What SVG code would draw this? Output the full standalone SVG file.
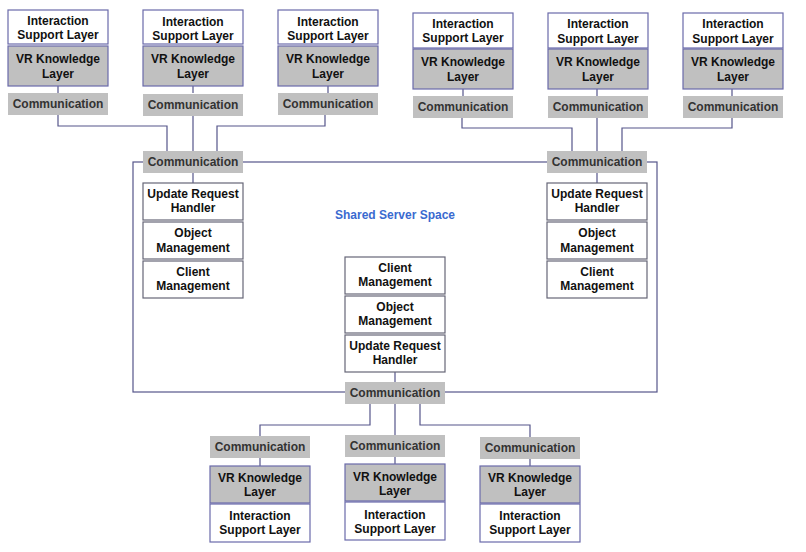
<svg xmlns="http://www.w3.org/2000/svg" width="806" height="552" viewBox="0 0 806 552">
<style>
.t{font-family:"Liberation Sans",Arial,sans-serif;font-weight:bold;font-size:12px;text-anchor:middle;fill:#111}
.c{fill:#333}
.w{fill:#fff;stroke:#6a6aaa;stroke-width:1.2}
.g{fill:#c0c0c0;stroke:#6a6aaa;stroke-width:1.2}
.cm{fill:#c0c0c0}
.s{fill:#fff;stroke:#666677;stroke-width:1.2}
.ln{fill:none;stroke:#55558a;stroke-width:1.2}
.lbl{font-family:"Liberation Sans",Arial,sans-serif;font-weight:bold;font-size:12px;text-anchor:middle;fill:#3a6ad0}
</style>
<rect width="806" height="552" fill="#fff"/>
<g id="shared-server-space">
<rect x="133" y="162" width="524" height="230" fill="none" stroke="#55558a" stroke-width="1.2"/>
<text class="lbl" x="395" y="219">Shared Server Space</text>
</g>
<g id="connectors">
<path class="ln" d="M58,86V93M58,115V126H167V151"/>
<path class="ln" d="M193,86V93M193,115V151"/>
<path class="ln" d="M328,86V93M325,115V126H217V151"/>
<path class="ln" d="M463,89V96M462,118V128H572V151"/>
<path class="ln" d="M597,89V96M597,118V151"/>
<path class="ln" d="M732,89V96M732,118V128H622V151"/>
<path class="ln" d="M193,173V183M597,173V183M395,372V382"/>
<path class="ln" d="M370,404V425H260V436M395,404V435M420,404V425H530V437"/>
<path class="ln" d="M260,458V466M395,457V464M530,459V466"/>
</g>
<g id="client1">
<rect class="w" x="8" y="10" width="100" height="34"/>
<text class="t" x="58" y="25">Interaction</text><text class="t" x="58" y="39">Support Layer</text>
<rect class="g" x="8" y="46" width="100" height="40"/>
<text class="t" x="58" y="63">VR Knowledge</text><text class="t" x="58" y="78">Layer</text>
<rect class="cm" x="8" y="93" width="100" height="22"/>
<text class="t c" x="58" y="108">Communication</text>
</g>
<g id="client2">
<rect class="w" x="143" y="10" width="100" height="34"/>
<text class="t" x="193" y="26">Interaction</text><text class="t" x="193" y="40">Support Layer</text>
<rect class="g" x="143" y="46" width="100" height="40"/>
<text class="t" x="193" y="63">VR Knowledge</text><text class="t" x="193" y="78">Layer</text>
<rect class="cm" x="143" y="94" width="100" height="22"/>
<text class="t c" x="193" y="109">Communication</text>
</g>
<g id="client3">
<rect class="w" x="278" y="10" width="100" height="34"/>
<text class="t" x="328" y="26">Interaction</text><text class="t" x="328" y="40">Support Layer</text>
<rect class="g" x="278" y="46" width="100" height="40"/>
<text class="t" x="328" y="63">VR Knowledge</text><text class="t" x="328" y="78">Layer</text>
<rect class="cm" x="278" y="93" width="100" height="22"/>
<text class="t c" x="328" y="108">Communication</text>
</g>
<g id="client4">
<rect class="w" x="413" y="13" width="100" height="35"/>
<text class="t" x="463" y="28">Interaction</text><text class="t" x="463" y="42">Support Layer</text>
<rect class="g" x="413" y="49" width="100" height="40"/>
<text class="t" x="463" y="66">VR Knowledge</text><text class="t" x="463" y="81">Layer</text>
<rect class="cm" x="413" y="96" width="100" height="22"/>
<text class="t c" x="463" y="111">Communication</text>
</g>
<g id="client5">
<rect class="w" x="548" y="13" width="100" height="35"/>
<text class="t" x="598" y="28">Interaction</text><text class="t" x="598" y="43">Support Layer</text>
<rect class="g" x="548" y="49" width="100" height="40"/>
<text class="t" x="598" y="66">VR Knowledge</text><text class="t" x="598" y="81">Layer</text>
<rect class="cm" x="548" y="96" width="100" height="22"/>
<text class="t c" x="598" y="111">Communication</text>
</g>
<g id="client6">
<rect class="w" x="683" y="13" width="100" height="35"/>
<text class="t" x="733" y="28">Interaction</text><text class="t" x="733" y="43">Support Layer</text>
<rect class="g" x="683" y="49" width="100" height="40"/>
<text class="t" x="733" y="66">VR Knowledge</text><text class="t" x="733" y="81">Layer</text>
<rect class="cm" x="683" y="96" width="100" height="22"/>
<text class="t c" x="733" y="111">Communication</text>
</g>
<g id="server-left">
<rect class="cm" x="143" y="151" width="100" height="22"/>
<text class="t c" x="193" y="166">Communication</text>
<rect class="s" x="143" y="183" width="100" height="37"/>
<text class="t" x="193" y="198">Update Request</text><text class="t" x="193" y="212">Handler</text>
<rect class="s" x="143" y="222" width="100" height="37"/>
<text class="t" x="193" y="237">Object</text><text class="t" x="193" y="252">Management</text>
<rect class="s" x="143" y="261" width="100" height="37"/>
<text class="t" x="193" y="276">Client</text><text class="t" x="193" y="290">Management</text>
</g>
<g id="server-right">
<rect class="cm" x="547" y="151" width="100" height="22"/>
<text class="t c" x="597" y="166">Communication</text>
<rect class="s" x="547" y="183" width="100" height="37"/>
<text class="t" x="597" y="198">Update Request</text><text class="t" x="597" y="212">Handler</text>
<rect class="s" x="547" y="222" width="100" height="37"/>
<text class="t" x="597" y="237">Object</text><text class="t" x="597" y="252">Management</text>
<rect class="s" x="547" y="261" width="100" height="37"/>
<text class="t" x="597" y="276">Client</text><text class="t" x="597" y="290">Management</text>
</g>
<g id="server-center">
<rect class="s" x="345" y="257" width="100" height="37"/>
<text class="t" x="395" y="272">Client</text><text class="t" x="395" y="286">Management</text>
<rect class="s" x="345" y="296" width="100" height="37"/>
<text class="t" x="395" y="311">Object</text><text class="t" x="395" y="325">Management</text>
<rect class="s" x="345" y="335" width="100" height="37"/>
<text class="t" x="395" y="350">Update Request</text><text class="t" x="395" y="364">Handler</text>
<rect class="cm" x="345" y="382" width="100" height="22"/>
<text class="t c" x="395" y="397">Communication</text>
</g>
<g id="client7">
<rect class="cm" x="210" y="436" width="100" height="22"/>
<text class="t c" x="260" y="451">Communication</text>
<rect class="g" x="210" y="466" width="100" height="37"/>
<text class="t" x="260" y="482">VR Knowledge</text><text class="t" x="260" y="496">Layer</text>
<rect class="w" x="210" y="504" width="100" height="38"/>
<text class="t" x="260" y="520">Interaction</text><text class="t" x="260" y="534">Support Layer</text>
</g>
<g id="client8">
<rect class="cm" x="345" y="435" width="100" height="22"/>
<text class="t c" x="395" y="450">Communication</text>
<rect class="g" x="345" y="464" width="100" height="37"/>
<text class="t" x="395" y="481">VR Knowledge</text><text class="t" x="395" y="495">Layer</text>
<rect class="w" x="345" y="502" width="100" height="38"/>
<text class="t" x="395" y="519">Interaction</text><text class="t" x="395" y="533">Support Layer</text>
</g>
<g id="client9">
<rect class="cm" x="480" y="437" width="100" height="22"/>
<text class="t c" x="530" y="452">Communication</text>
<rect class="g" x="480" y="466" width="100" height="37"/>
<text class="t" x="530" y="482">VR Knowledge</text><text class="t" x="530" y="496">Layer</text>
<rect class="w" x="480" y="504" width="100" height="38"/>
<text class="t" x="530" y="520">Interaction</text><text class="t" x="530" y="534">Support Layer</text>
</g>
</svg>
